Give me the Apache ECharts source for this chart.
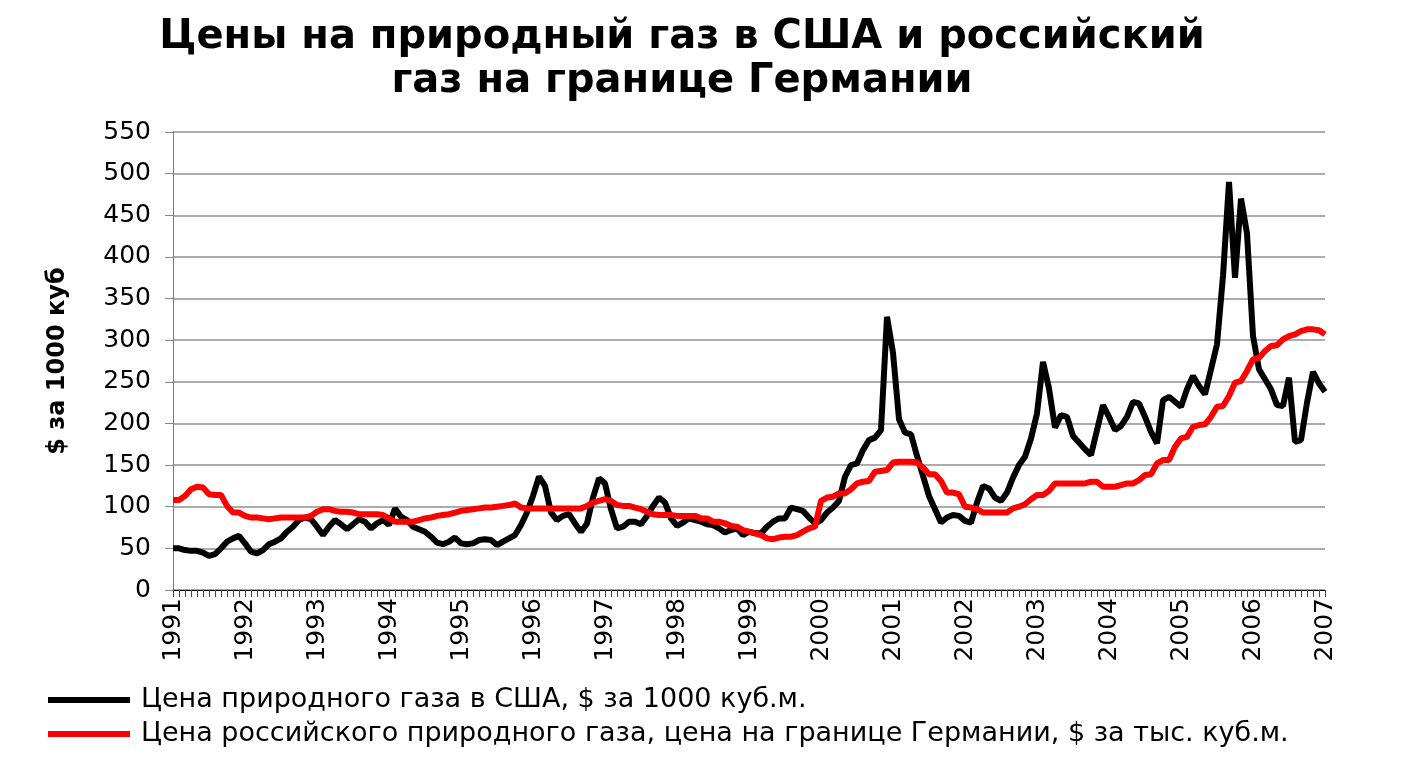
<!DOCTYPE html>
<html>
<head>
<meta charset="utf-8">
<script src="https://cdn.jsdelivr.net/npm/echarts@6/dist/echarts.min.js"></script>
<style>
  html, body { margin: 0; padding: 0; background: #fff; }
  #container { width: 1403px; height: 776px; }
</style>
</head>
<body>
<div id="container"></div>
<script>
// years on the x axis, one category per month
var years = [1991, 1992, 1993, 1994, 1995, 1996, 1997, 1998, 1999, 2000, 2001, 2002, 2003, 2004, 2005, 2006, 2007];

// US natural gas price, $ per 1000 m3 (monthly, Jan 1991 .. Jan 2007)
var usPrice = [
    50, 50, 48, 47, 47, 45, 41, 43, 50, 58, 62, 65,
    56, 46, 44, 48, 55, 58, 62, 70, 76, 84, 87, 85,
    76, 66, 76, 84, 79, 73, 79, 85, 82, 74, 80, 84,
    78, 98, 88, 84, 76, 73, 70, 64, 57, 55, 58, 63,
    56, 55, 56, 60, 61, 60, 54, 58, 62, 66, 78, 93,
    113, 136, 125, 93, 84, 89, 91, 80, 70, 80, 111, 134,
    128, 97, 74, 76, 82, 82, 79, 89, 101, 111, 105, 86,
    77, 81, 86, 84, 82, 79, 78, 74, 69, 72, 74, 66,
    70, 68, 68, 76, 82, 86, 86, 99, 97, 95, 87, 80,
    84, 93, 99, 107, 136, 150, 152, 168, 180, 183, 192, 328,
    285, 205, 189, 187, 161, 137, 113, 97, 81, 87, 90, 89,
    83, 81, 105, 125, 122, 111, 107, 117, 135, 150, 160, 182,
    212, 274, 242, 195, 210, 208, 185, 177, 169, 162, 192, 222,
    208, 192, 197, 208, 226, 224, 208, 190, 176, 228, 232, 226,
    220, 241, 257, 245, 235, 265, 295, 377, 490, 375, 470, 428,
    305, 265, 253, 241, 222, 221, 255, 178, 180, 225, 262, 248,
    238
];

// Russian gas price at the German border, $ per 1000 m3
var ruPrice = [
    108, 108, 113, 121, 124, 123, 115, 114, 114, 101, 93, 93,
    89, 87, 87, 86, 85, 86, 87, 87, 87, 87, 87, 89,
    94, 97, 97, 95, 94, 94, 93, 91, 91, 91, 91, 90,
    86, 82, 82, 82, 82, 84, 86, 87, 89, 90, 91, 93,
    95, 96, 97, 98, 99, 99, 100, 101, 102, 104, 99, 98,
    98, 98, 98, 98, 98, 98, 98, 98, 98, 101, 105, 107,
    109, 107, 102, 101, 101, 99, 97, 94, 91, 90, 90, 90,
    89, 89, 89, 89, 86, 86, 82, 82, 80, 77, 76, 72,
    70, 68, 66, 62, 61, 63, 64, 64, 66, 70, 74, 76,
    107, 111, 112, 116, 116, 121, 128, 130, 131, 142, 143, 144,
    153, 154, 154, 154, 153, 147, 139, 139, 131, 117, 117, 115,
    100, 99, 97, 93, 93, 93, 93, 93, 98, 100, 103, 109,
    114, 114, 119, 128, 128, 128, 128, 128, 128, 130, 130, 124,
    124, 124, 126, 128, 128, 132, 138, 139, 152, 156, 156, 172,
    182, 184, 196, 198, 199, 208, 220, 221, 233, 249, 251, 263,
    277, 279, 287, 293, 294, 301, 305, 307, 311, 313, 313, 312,
    307
];

var seriesNames = [
    'Цена природного газа в США, $ за 1000 куб.м.',
    'Цена российского природного газа, цена на границе Германии, $ за тыс. куб.м.'
];

var months = [];
years.forEach(function (y, i) {
    for (var m = 0; m < 12; m++) {
        if (i === years.length - 1 && m > 0) break;
        months.push(y + '-' + (m + 1));
    }
});

var myChart = echarts.init(document.getElementById('container'), null, { renderer: 'canvas' });

var option = {
    animation: false,
    backgroundColor: '#fff',
    title: {
        text: 'Цены на природный газ в США и российский\nгаз на границе Германии',
        left: 677,
        top: 11,
        textAlign: 'center',
        textStyle: {
            fontFamily: 'DejaVu Sans',
            fontWeight: 'bold',
            fontSize: 40,
            lineHeight: 44,
            color: '#000'
        }
    },
    legend: {
        orient: 'vertical',
        left: 43,
        top: 680,
        itemWidth: 82,
        itemHeight: 6,
        itemGap: 4,
        icon: 'rect',
        data: seriesNames,
        textStyle: {
            fontFamily: 'DejaVu Sans',
            fontSize: 27,
            lineHeight: 30,
            color: '#000',
            padding: [0, 0, 0, 6]
        }
    },
    grid: {
        left: 173,
        right: 78,
        top: 132,
        bottom: 186,
        containLabel: false
    },
    xAxis: {
        type: 'category',
        data: months,
        boundaryGap: false,
        axisLine: { lineStyle: { color: '#000', width: 1 } },
        axisTick: {
            interval: 0,
            length: 7,
            lineStyle: { color: '#444' }
        },
        axisLabel: {
            interval: function (index) { return index % 12 === 0; },
            formatter: function (v) { return v.split('-')[0]; },
            rotate: 90,
            margin: 8,
            fontFamily: 'DejaVu Sans',
            fontSize: 25,
            color: '#000'
        },
        splitLine: { show: false }
    },
    yAxis: {
        type: 'value',
        min: 0,
        max: 550,
        interval: 50,
        name: '$ за 1000 куб',
        nameLocation: 'middle',
        nameGap: 103,
        nameRotate: 90,
        nameTextStyle: {
            fontFamily: 'DejaVu Sans',
            fontWeight: 'bold',
            fontSize: 24,
            color: '#000'
        },
        axisLine: { show: true, lineStyle: { color: '#777', width: 1 } },
        axisTick: { show: true, length: 8, lineStyle: { color: '#888' } },
        axisLabel: {
            margin: 22,
            fontFamily: 'DejaVu Sans',
            fontSize: 25,
            color: '#000'
        },
        splitLine: { lineStyle: { color: '#909090', width: 1.5 } }
    },
    series: [
        {
            name: seriesNames[0],
            type: 'line',
            data: usPrice,
            showSymbol: false,
            symbol: 'none',
            color: '#000',
            lineStyle: { color: '#000', width: 6 }
        },
        {
            name: seriesNames[1],
            type: 'line',
            data: ruPrice,
            showSymbol: false,
            symbol: 'none',
            color: '#ff0000',
            lineStyle: { color: '#ff0000', width: 6 }
        }
    ]
};

myChart.setOption(option);
window.addEventListener('resize', myChart.resize);
</script>
</body>
</html>
